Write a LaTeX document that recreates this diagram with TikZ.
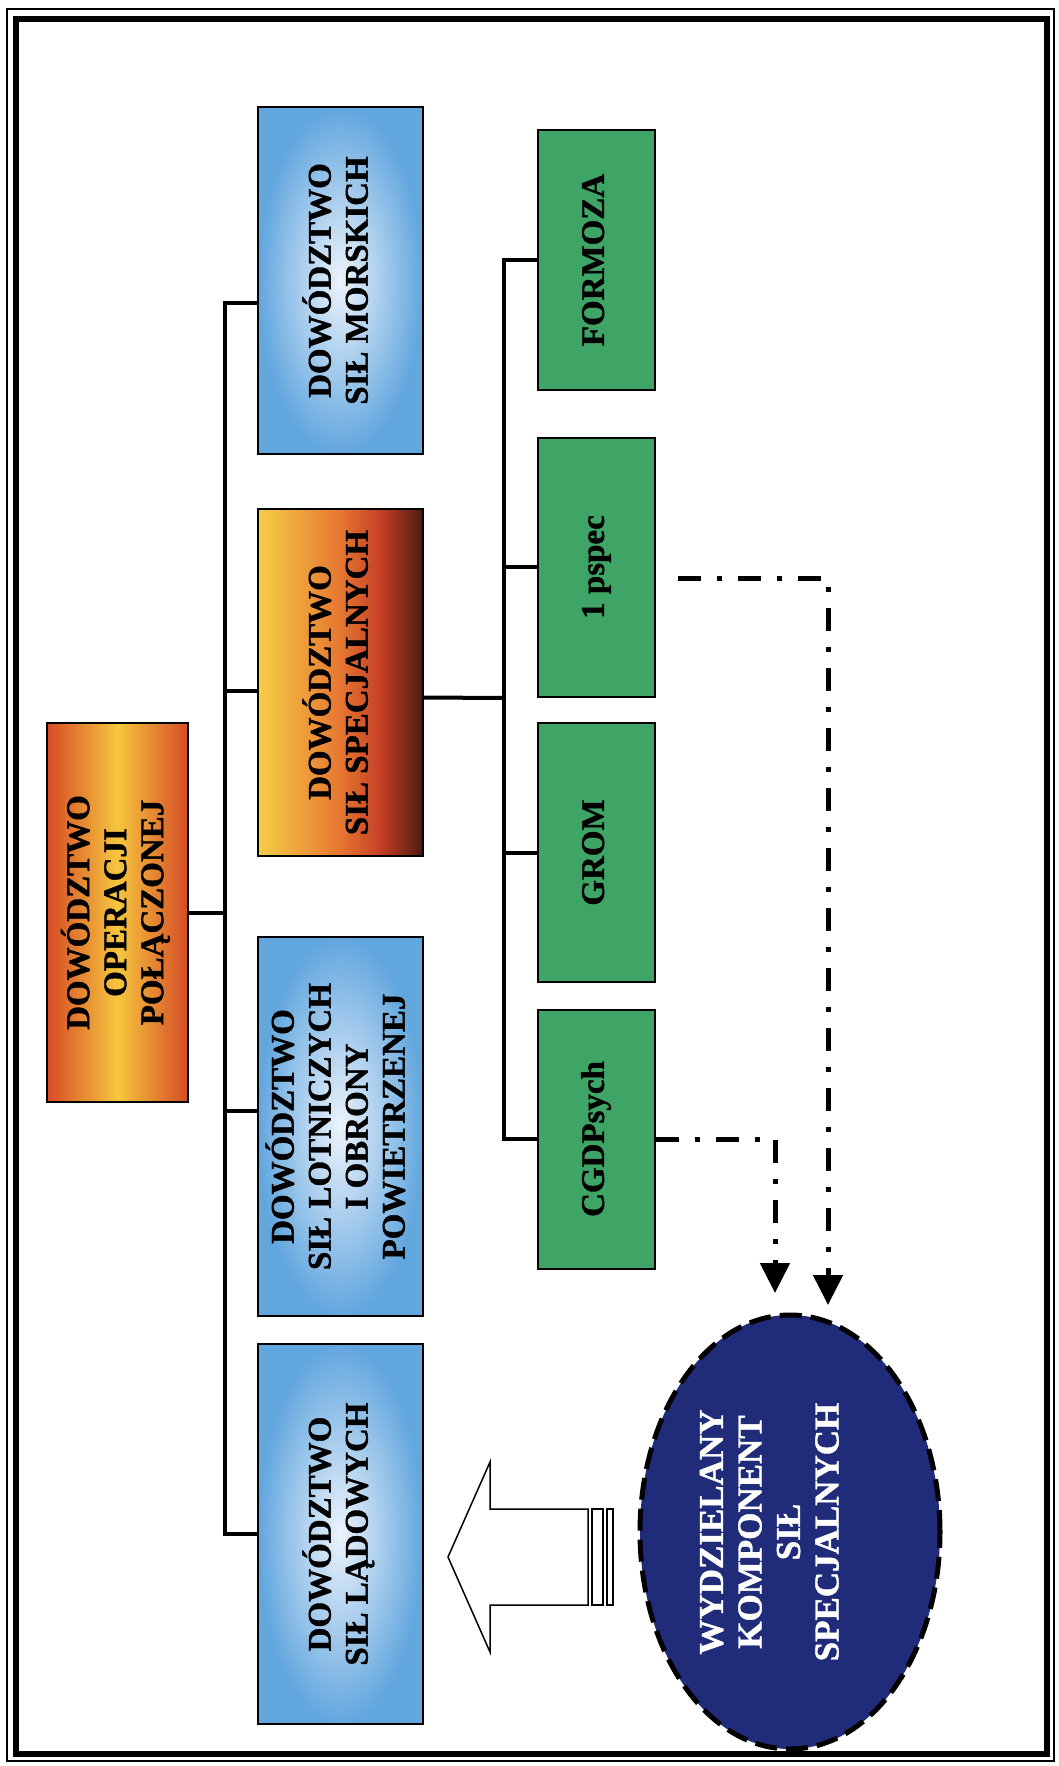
\documentclass[tikz,border=0pt]{standalone}
\usepackage{fontspec}
\setmainfont{Liberation Serif}[BoldFeatures={FakeBold=1.2}]
\usepackage{graphicx}
\usetikzlibrary{arrows.meta, shapes.geometric, positioning}

\definecolor{skyedge}{RGB}{98,166,222}
\definecolor{skymid}{RGB}{236,243,251}
\definecolor{opred}{RGB}{214,74,38}
\definecolor{opyel}{RGB}{246,198,62}
\definecolor{spyel}{RGB}{246,206,72}
\definecolor{sporange}{RGB}{230,118,48}
\definecolor{spred}{RGB}{198,64,38}
\definecolor{spdark}{RGB}{78,26,16}
\definecolor{unitgreen}{RGB}{62,165,102}
\definecolor{navy}{RGB}{32,44,122}

% yellow -> orange -> red -> dark brown, left to right
\pgfdeclarehorizontalshading{specshade}{100bp}{color(0bp)=(spyel); color(25bp)=(spyel);
  color(50bp)=(sporange); color(62bp)=(spred); color(75bp)=(spdark); color(100bp)=(spdark)}

\newcommand\vtext[1]{\rotatebox{90}{\begin{tabular}{@{}c@{}}#1\end{tabular}}}

\begin{document}
\begin{tikzpicture}[x=1pt, y=-1pt,
    box/.style={draw, line width=2pt, inner sep=0pt,
                font=\bfseries\fontsize{33}{37}\selectfont},
    bluebox/.style={box, inner color=skymid, outer color=skyedge,
                minimum width=165pt},
    unit/.style={box, fill=unitgreen, minimum width=117pt, minimum height=259pt},
    conn/.style={line width=4pt},
    dashdot/.style={line width=5pt, dash pattern=on 23pt off 16pt on 5pt off 16pt,
                -{Triangle[width=29pt,length=30pt]}},
    hollow/.style={draw, fill=white, line width=1.5pt}
]
    \useasboundingbox (0,0) rectangle (1059,1766);
    % double frame
    \draw[line width=1.5pt] (7,9) rectangle (1054,1761);
    \draw[line width=6pt] (16,19) rectangle (1047,1754);

    % joint command
    \node[box, left color=opred, right color=opred, middle color=opyel,
          minimum width=141pt, minimum height=379pt] (dop) at (117.5,912.5)
          {\vtext{DOWÓDZTWO\\OPERACJI\\POŁĄCZONEJ}};

    % component commands
    \node[bluebox, minimum height=347pt] (dsm) at (340.5,280.5)
          {\vtext{DOWÓDZTWO\\SIŁ MORSKICH}};
    \node[box, shading=specshade, minimum width=165pt, minimum height=347pt]
          (dss) at (340.5,682.5) {\vtext{DOWÓDZTWO\\SIŁ SPECJALNYCH}};
    \node[bluebox, minimum height=379pt] (dsp) at (340.5,1126.5)
          {\vtext{DOWÓDZTWO\\SIŁ LOTNICZYCH\\I OBRONY\\POWIETRZENEJ}};
    \node[bluebox, minimum height=380pt] (dsld) at (340.5,1534)
          {\vtext{DOWÓDZTWO\\SIŁ LĄDOWYCH}};

    % special forces units
    \node[unit] (frm) at (596.5,260)    {\vtext{FORMOZA}};
    \node[unit] (psp) at (596.5,567)    {\vtext{1 pspec}};
    \node[unit] (grm) at (596.5,852.5)  {\vtext{GROM}};
    \node[unit] (cgd) at (596.5,1139)   {\vtext{CGDPsych}};

    % detached component
    \node[ellipse, draw, fill=navy, line width=5pt, dash pattern=on 22pt off 9pt,
          minimum width=300pt, minimum height=434pt, inner sep=0pt, text=white,
          font=\bfseries\fontsize{35}{38.5}\selectfont] (wks) at (790,1532)
          {\hspace*{-34pt}\vtext{WYDZIELANY\\KOMPONENT\\SIŁ\\SPECJALNYCH}};

    % main tree
    \draw[conn] (dop.east) -- ++(36,0) coordinate (hub);
    \draw[conn] ([yshift=-22pt]dsm.west) -| (hub) |- (dsld.west);
    \draw[conn] (hub |- dss.west) ++(0,8) -- ([yshift=-8pt]dss.west);
    \draw[conn] (hub |- dsp.west) ++(0,-16) -- ([yshift=16pt]dsp.west);

    % units tree
    \coordinate (gbus) at (504,698);
    \draw[conn] ([yshift=-15pt]dss.east) -- (gbus);
    \draw[conn] (frm.west) -| (gbus) |- (cgd.west);
    \draw[conn] (gbus |- psp.west) -- (psp.west);
    \draw[conn] (gbus |- grm.west) -- (grm.west);

    % detached units
    \coordinate (tipP) at (828,1305);
    \coordinate (tipC) at (775,1293);
    \draw[dashdot, shorten <=22pt] ([yshift=-11pt]psp.east) -| (tipP);
    \draw[dashdot] (cgd.east) -| (tipC);

    % transfer arrow
    \draw[hollow] (448,1557) -- (490,1462) -- (490,1509) -- (588,1509)
        -- (588,1605) -- (490,1605) -- (490,1652) -- cycle;
    \draw[hollow] (592,1509) rectangle (603,1605);
    \draw[hollow] (607,1509) rectangle (613,1605);
\end{tikzpicture}
\end{document}
